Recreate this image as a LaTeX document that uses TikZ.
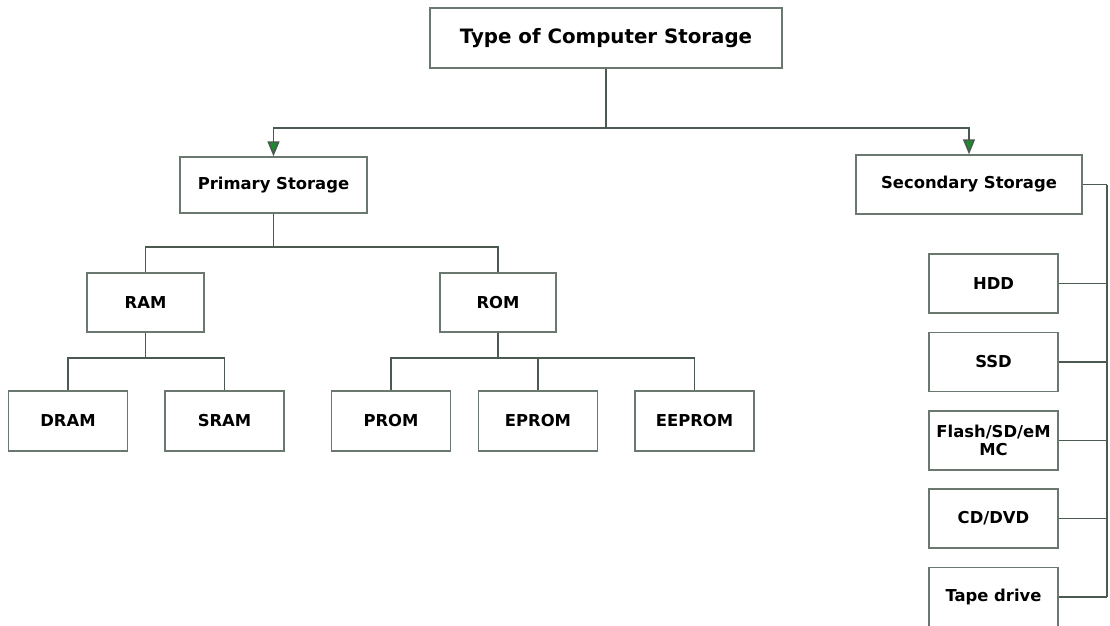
\documentclass[tikz,border=0pt]{standalone}
\usepackage{fontspec}
\setmainfont{DejaVu Sans}
\usetikzlibrary{arrows.meta}
\definecolor{linegray}{HTML}{4A5A50}
\definecolor{boxgray}{HTML}{6A7870}
\definecolor{arrowgreen}{HTML}{1E8A2E}
\begin{document}
\begin{tikzpicture}[x=1pt,y=-1pt,
	box/.style={rectangle,draw=boxgray,line width=1.4pt,fill=white,inner sep=0pt,align=center,font=\fontsize{16.4}{18}\selectfont\bfseries},
	link/.style={draw=linegray,line width=1.6pt},
	arr/.style={link,-{Triangle[width=12pt,length=15pt,fill=arrowgreen]}}]
	\useasboundingbox (0,0) rectangle (1110,625);

	\node[box,minimum width=352pt,minimum height=60pt,font=\fontsize{19.8}{22}\selectfont\bfseries] at (606,38) (top) {Type of Computer Storage};
	\node[box,minimum width=187pt,minimum height=56pt] at (273.5,185) (prim) {Primary Storage};
	\node[box,minimum width=226pt,minimum height=59pt] at (969,184.5) (sec) {Secondary Storage};

	\node[box,minimum width=117pt,minimum height=59pt] at (145.5,302.5) (ram) {RAM};
	\node[box,minimum width=116pt,minimum height=59pt] at (498,302.5) (rom) {ROM};

	\foreach \name/\x/\txt in {dram/68/DRAM,sram/224.5/SRAM,prom/391/PROM,eprom/538/EPROM,eeprom/694.5/EEPROM}
		\node[box,minimum width=119pt,minimum height=60pt] at (\x,421) (\name) {\txt};

	\foreach \name/\y/\txt in {hdd/283.5/HDD,ssd/362/SSD,flash/440.5/{Flash/SD/eM\\MC},cd/518.5/{CD/DVD},tape/597/Tape drive}
		\node[box,minimum width=129pt,minimum height=59pt] at (993.5,\y) (\name) {\txt};

	\draw[link] (top.south) -- ++(0,59) coordinate (j1);
	\draw[arr] (j1) -| (prim.north);
	\draw[arr] (j1) -| (sec.north);

	\draw[link] (prim.south) -- ++(0,33) coordinate (j2);
	\draw[link] (j2) -| (ram.north);
	\draw[link] (j2) -| (rom.north);

	\draw[link] (ram.south) -- ++(0,25) coordinate (j3);
	\foreach \name in {dram,sram}
		\draw[link] (j3) -| (\name.north);

	\draw[link] (rom.south) -- ++(0,25) coordinate (j4);
	\foreach \name in {prom,eprom,eeprom}
		\draw[link] (j4) -| (\name.north);

	\draw[link] (sec.east) -- ++(24,0) coordinate (j5);
	\draw[link] (j5) -- (j5 |- tape.east);
	\foreach \name in {hdd,ssd,flash,cd,tape}
		\draw[link] (\name.east) -- (\name.east -| j5);
\end{tikzpicture}
\end{document}
